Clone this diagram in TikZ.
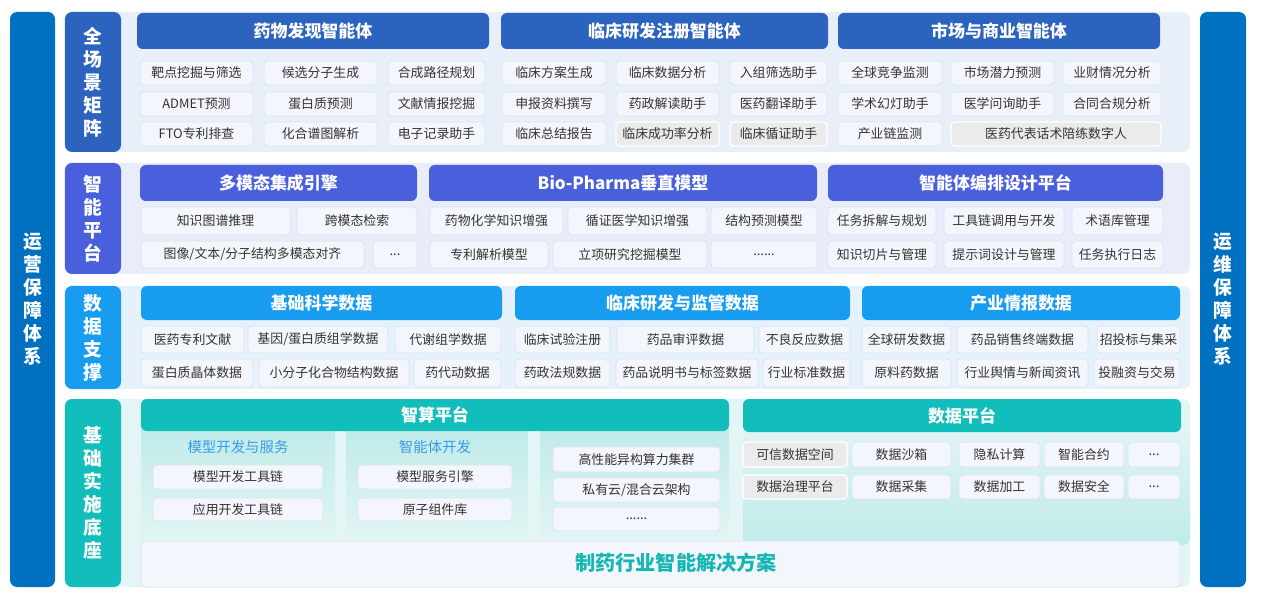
\documentclass[tikz,border=0pt]{standalone}
\usepackage{fontspec}
\setmainfont{Noto Sans CJK SC}

\definecolor{sidebar}{HTML}{0070C0}
\definecolor{rowone}{HTML}{2C63BE}
\definecolor{rowtwo}{HTML}{4A5FDC}
\definecolor{rowthree}{HTML}{189CF0}
\definecolor{rowfour}{HTML}{12BEBB}
\definecolor{panelone}{HTML}{E9EFF9}
\definecolor{paneltwo}{HTML}{E9ECF9}
\definecolor{panelthree}{HTML}{E5F1FB}
\definecolor{panelfour}{HTML}{E4F5F5}
\definecolor{itemfill}{HTML}{F3F6FC}
\definecolor{itemline}{HTML}{DCE3F3}
\definecolor{greyfill}{HTML}{EBEBEB}
\definecolor{itemtext}{HTML}{333333}
\definecolor{subtitle}{HTML}{3A9BE8}
\definecolor{solution}{HTML}{16B6B3}
\definecolor{shadetop}{HTML}{BFEBE9}
\definecolor{shadebot}{HTML}{E2F5F4}

\tikzset{
  item/.style={draw=itemline, fill=itemfill, line width=0.8pt, rounded corners=3pt,
    inner sep=0pt, text=itemtext, font=\fontsize{11}{13}\selectfont},
  greyitem/.style={item, draw=white, fill=greyfill, line width=1.2pt},
  header/.style={rounded corners=5pt, inner sep=0pt, text=white,
    font=\bfseries\fontsize{14.5}{17}\selectfont},
  sidelabel/.style={rounded corners=6pt, inner sep=0pt, text=white, align=center,
    font=\bfseries\fontsize{16}{19.6}\selectfont},
}

% box from pixel corners: [style]{name}{x1}{y1}{x2}{y2}{text}
\newcommand{\bx}[7][item]{%
  \node[#1, minimum width={(#5-#3)*0.03cm}, minimum height={(#6-#4)*0.03cm}]
    (#2) at ({(#3+#5)/2},{(#4+#6)/2}) {#7};}
\newcommand{\shortdots}{...}
\newcommand{\longdots}{......}

\begin{document}
\begin{tikzpicture}[x=0.03cm, y=-0.03cm]
    \useasboundingbox (0,0) rectangle (1270,599);

    % outer bars
    \bx[sidelabel, fill=sidebar]{ops}{10}{12}{55}{587}{运\\营\\保\\障\\体\\系}
    \bx[sidelabel, fill=sidebar]{maint}{1200}{12}{1246}{587}{运\\维\\保\\障\\体\\系}

    % row 1
    \fill[panelone, rounded corners=6pt] (64,12) rectangle (1190,152);
    \bx[sidelabel, fill=rowone]{lbl1}{65}{12}{121}{152}{全\\场\\景\\矩\\阵}
    \bx[header, fill=rowone]{h11}{137}{13}{489}{49}{药物发现智能体}
    \bx[header, fill=rowone]{h12}{501}{13}{828}{49}{临床研发注册智能体}
    \bx[header, fill=rowone]{h13}{838}{13}{1160}{49}{市场与商业智能体}
    \foreach \nm/\xa/\xb/\t in {a11/140/253/靶点挖掘与筛选, a12/264/377/候选分子生成,
        a13/388/485/合成路径规划, a14/502/606/临床方案生成, a15/616/719/临床数据分析,
        a16/730/827/入组筛选助手, a17/838/942/全球竞争监测, a18/951/1054/市场潜力预测,
        a19/1063/1161/业财情况分析}
      \bx{\nm}{\xa}{61}{\xb}{85}{\t};
    \foreach \nm/\xa/\xb/\t in {b11/140/253/ADMET预测, b12/264/377/蛋白质预测,
        b13/388/485/文献情报挖掘, b14/502/606/申报资料撰写, b15/616/719/药政解读助手,
        b16/730/827/医药翻译助手, b17/838/942/学术幻灯助手, b18/951/1054/医学问询助手,
        b19/1063/1161/合同合规分析}
      \bx{\nm}{\xa}{92}{\xb}{116}{\t};
    \foreach \nm/\xa/\xb/\t in {c11/140/253/FTO专利排查, c12/264/377/化合谱图解析,
        c13/388/485/电子记录助手, c14/502/606/临床总结报告, c17/838/942/产业链监测}
      \bx{\nm}{\xa}{122}{\xb}{146}{\t};
    \bx[greyitem]{c15}{616}{122}{719}{146}{临床成功率分析}
    \bx[greyitem]{c16}{730}{122}{827}{146}{临床循证助手}
    \bx[greyitem]{c18}{951}{122}{1161}{146}{医药代表话术陪练数字人}

    % row 2
    \fill[paneltwo, rounded corners=6pt] (64,163) rectangle (1190,274);
    \bx[sidelabel, fill=rowtwo]{lbl2}{65}{163}{121}{274}{智\\能\\平\\台}
    \bx[header, fill=rowtwo]{h21}{140}{165}{417}{201}{多模态集成引擎}
    \bx[header, fill=rowtwo]{h22}{429}{165}{817}{201}{Bio-Pharma垂直模型}
    \bx[header, fill=rowtwo]{h23}{828}{165}{1163}{201}{智能体编排设计平台}
    \foreach \nm/\xa/\xb/\t in {d11/141/290/知识图谱推理, d12/297/417/跨模态检索,
        d13/430/563/药物化学知识增强, d14/568/707/循证医学知识增强, d15/711/817/结构预测模型,
        d16/828/936/任务拆解与规划, d17/944/1064/工具链调用与开发, d18/1072/1163/术语库管理}
      \bx{\nm}{\xa}{207}{\xb}{235}{\t};
    \foreach \nm/\xa/\xb/\t in {e11/141/364/{图像/文本/分子结构多模态对齐}, e12/373/417/\shortdots,
        e13/430/548/专利解析模型, e14/553/707/立项研究挖掘模型, e15/711/817/\longdots,
        e16/828/936/知识切片与管理, e17/944/1064/提示词设计与管理, e18/1072/1163/任务执行日志}
      \bx{\nm}{\xa}{241}{\xb}{268}{\t};

    % row 3
    \fill[panelthree, rounded corners=6pt] (64,286) rectangle (1190,389);
    \bx[sidelabel, fill=rowthree]{lbl3}{65}{286}{121}{389}{数\\据\\支\\撑}
    \bx[header, fill=rowthree]{h31}{141}{286}{502}{320}{基础科学数据}
    \bx[header, fill=rowthree]{h32}{515}{286}{850}{320}{临床研发与监管数据}
    \bx[header, fill=rowthree]{h33}{862}{286}{1180}{320}{产业情报数据}
    \foreach \nm/\xa/\xb/\t in {f11/141/244/医药专利文献, f12/248/388/{基因/蛋白质组学数据},
        f13/395/501/代谢组学数据, f14/515/610/临床试验注册, f15/617/754/药品审评数据,
        f16/759/850/不良反应数据, f17/862/951/全球研发数据, f18/957/1088/药品销售终端数据,
        f19/1097/1180/招投标与集采}
      \bx{\nm}{\xa}{326}{\xb}{353}{\t};
    \foreach \nm/\xa/\xb/\t in {g11/141/253/蛋白质晶体数据, g12/259/409/小分子化合物结构数据,
        g13/414/501/药代动数据, g14/515/610/药政法规数据, g15/616/758/药品说明书与标签数据,
        g16/763/850/行业标准数据, g17/862/951/原料药数据, g18/957/1088/行业舆情与新闻资讯,
        g19/1094/1180/投融资与交易}
      \bx{\nm}{\xa}{359}{\xb}{387}{\t};

    % row 4
    \fill[panelfour, rounded corners=6pt] (64,399) rectangle (1190,587);
    \bx[sidelabel, fill=rowfour]{lbl4}{65}{399}{121}{587}{基\\础\\实\\施\\底\\座}
    \shade[top color=shadetop, bottom color=shadebot] (141,425) rectangle (335,540);
    \shade[top color=shadetop, bottom color=shadebot] (346,425) rectangle (528,540);
    \shade[top color=shadetop, bottom color=shadebot] (540,425) rectangle (729,540);
    \shade[top color=shadebot, bottom color=shadetop, rounded corners=6pt] (743,425) rectangle (1190,545);
    \bx[header, fill=rowfour]{h41}{141}{399}{729}{431}{智算平台}
    \bx[header, fill=rowfour]{h42}{743}{399}{1181}{432}{数据平台}
    \node[text=subtitle, font=\fontsize{12.3}{14}\selectfont] (t41) at (238,447) {模型开发与服务};
    \node[text=subtitle, font=\fontsize{12.3}{14}\selectfont] (t42) at (435,447) {智能体开发};
    \bx{k11}{153}{465}{323}{489}{模型开发工具链}
    \bx{k12}{153}{498}{323}{521}{应用开发工具链}
    \bx{k21}{358}{465}{512}{489}{模型服务引擎}
    \bx{k22}{358}{498}{512}{521}{原子组件库}
    \bx{k31}{553}{447}{720}{472}{高性能异构算力集群}
    \bx{k32}{553}{478}{720}{502}{私有云/混合云架构}
    \bx{k33}{553}{507}{720}{531}{\longdots}
    \bx[greyitem]{m11}{743}{442}{847}{467}{可信数据空间}
    \bx[greyitem]{m21}{743}{475}{847}{499}{数据治理平台}
    \foreach \nm/\xa/\xb/\t in {m12/852/951/数据沙箱, m13/959/1040/隐私计算,
        m14/1044/1124/智能合约, m15/1128/1180/\shortdots}
      \bx{\nm}{\xa}{442}{\xb}{467}{\t};
    \foreach \nm/\xa/\xb/\t in {m22/852/951/数据采集, m23/959/1040/数据加工,
        m24/1044/1124/数据安全, m25/1128/1180/\shortdots}
      \bx{\nm}{\xa}{475}{\xb}{499}{\t};
    % solution bar, its title sits a little right of centre
    \bx{sol}{141}{541}{1180}{587}{}
    \node[text=solution, font=\bfseries\fontsize{17.2}{20}\selectfont] (soltext) at (676,563) {制药行业智能解决方案};
\end{tikzpicture}
\end{document}
